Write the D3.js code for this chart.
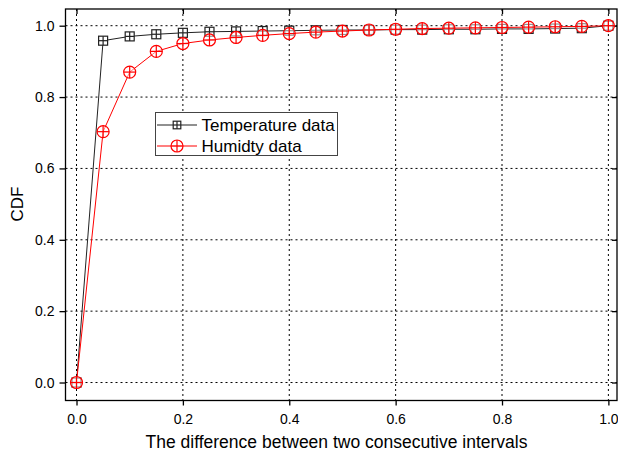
<!DOCTYPE html>
<html><head><meta charset="utf-8">
<script src="https://cdn.jsdelivr.net/npm/d3@7"></script>
<style>body{margin:0;background:#fff}svg{display:block}text{font-family:"Liberation Sans",Arial,sans-serif}</style>
</head><body>
<script>
const xValues = [0,0.05,0.1,0.15,0.2,0.25,0.3,0.35,0.4,0.45,0.5,0.55,0.6,0.65,0.7,0.75,0.8,0.85,0.9,0.95,1.0];
const temperature = [0,0.958,0.970,0.976,0.980,0.983,0.984,0.985,0.986,0.987,0.988,0.988,0.989,0.989,0.990,0.990,0.991,0.991,0.992,0.993,1.0];
const humidity = [0,0.703,0.870,0.928,0.950,0.960,0.967,0.973,0.978,0.982,0.985,0.988,0.990,0.992,0.993,0.994,0.995,0.996,0.997,0.998,1.0];
const xTicks = [0,0.2,0.4,0.6,0.8,1.0];
const yTicks = [0,0.2,0.4,0.6,0.8,1.0];
const seriesNames = ["Temperature data","Humidty data"];

const W=618,H=457;
const svg=d3.select("body").append("svg").attr("width",W).attr("height",H);
const L=65.5,R=617,T=9,B=400.5;
const x=d3.scaleLinear().domain([-0.0207,1.0162]).range([L,R]);
const y=d3.scaleLinear().domain([-0.0504,1.0468]).range([B,T]);

// grid
const g=svg.append("g");
g.selectAll(".gx").data(xTicks).join("line").attr("x1",d=>x(d)).attr("x2",d=>x(d)).attr("y1",T).attr("y2",B)
 .attr("stroke","#000").attr("stroke-width",1).attr("stroke-dasharray","2,3");
g.selectAll(".gy").data(yTicks).join("line").attr("y1",d=>y(d)).attr("y2",d=>y(d)).attr("x1",L).attr("x2",R)
 .attr("stroke","#000").attr("stroke-width",1).attr("stroke-dasharray","2,3");

// axes
const fmt=d3.format(".1f");
const ax=svg.append("g").attr("transform",`translate(0,${B})`).call(d3.axisBottom(x).tickValues(xTicks).tickFormat(fmt).tickSize(5).tickPadding(9));
const ay=svg.append("g").attr("transform",`translate(${L},0)`).call(d3.axisLeft(y).tickValues(yTicks).tickFormat(fmt).tickSize(6).tickPadding(5));
const at=svg.append("g").attr("transform",`translate(0,${T})`).call(d3.axisBottom(x).tickValues(xTicks).tickFormat("").tickSize(5));
const ar=svg.append("g").attr("transform",`translate(${R},0)`).call(d3.axisLeft(y).tickValues(yTicks).tickFormat("").tickSize(5));
[ax,ay,at,ar].forEach(a=>{a.select(".domain").remove();a.selectAll("line").attr("stroke","#000").attr("stroke-width",1.3);});
[ax,ay].forEach(a=>a.selectAll("text").attr("font-size",14).attr("fill","#000").attr("font-family","Liberation Sans, Arial, sans-serif"));
svg.append("rect").attr("x",L).attr("y",T).attr("width",R-L).attr("height",B-T).attr("fill","none").attr("stroke","#000").attr("stroke-width",1.3);

// lines
const data=[temperature,humidity];
const colors=["#222","#ff0000"];
const line=d3.line().x(d=>x(d[0])).y(d=>y(d[1]));
data.forEach((s,i)=>{
  svg.append("path").datum(xValues.map((v,j)=>[v,s[j]])).attr("d",line).attr("fill","none").attr("stroke",colors[i]).attr("stroke-width",1);
});
function square(sel,cx,cy,r,c){
  sel.append("rect").attr("x",cx-r).attr("y",cy-r).attr("width",2*r).attr("height",2*r).attr("fill","#fff").attr("stroke",c).attr("stroke-width",1.2);
  sel.append("line").attr("x1",cx-r).attr("x2",cx+r).attr("y1",cy).attr("y2",cy).attr("stroke",c).attr("stroke-width",1.2);
  sel.append("line").attr("x1",cx).attr("x2",cx).attr("y1",cy-r).attr("y2",cy+r).attr("stroke",c).attr("stroke-width",1.2);
}
function circ(sel,cx,cy,r,c){
  sel.append("circle").attr("cx",cx).attr("cy",cy).attr("r",r).attr("fill","#fff").attr("fill-opacity",0.5).attr("stroke",c).attr("stroke-width",1.2);
  sel.append("line").attr("x1",cx-r).attr("x2",cx+r).attr("y1",cy).attr("y2",cy).attr("stroke",c).attr("stroke-width",1.2);
  sel.append("line").attr("x1",cx).attr("x2",cx).attr("y1",cy-r).attr("y2",cy+r).attr("stroke",c).attr("stroke-width",1.2);
}
const mg=svg.append("g");
xValues.forEach((v,j)=>square(mg,x(v),y(temperature[j]),4.5,colors[0]));
xValues.forEach((v,j)=>circ(mg,x(v),y(humidity[j]),6,colors[1]));

// legend
const lg=svg.append("g");
lg.append("rect").attr("x",155.5).attr("y",112.5).attr("width",182).attr("height",43).attr("fill","#fff").attr("stroke","#444").attr("stroke-width",1);
[125,146].forEach((yy,i)=>{
  lg.append("line").attr("x1",157).attr("x2",197).attr("y1",yy).attr("y2",yy).attr("stroke",colors[i]).attr("stroke-width",1.2);
  if(i===0) square(lg,177,yy,3.8,colors[0]); else circ(lg,177,yy,6,colors[1]);
  lg.append("text").attr("x",201.5).attr("y",yy+6).attr("font-size",17).attr("fill","#000").text(seriesNames[i]);
});

// titles
svg.append("text").attr("x",336.5).attr("y",448).attr("text-anchor","middle").attr("font-size",17.5).attr("fill","#000").text("The difference between two consecutive intervals");
svg.append("text").attr("transform",`translate(23,${y(0.5)}) rotate(-90)`).attr("text-anchor","middle").attr("font-size",17).attr("fill","#000").text("CDF");
</script>
</body></html>
